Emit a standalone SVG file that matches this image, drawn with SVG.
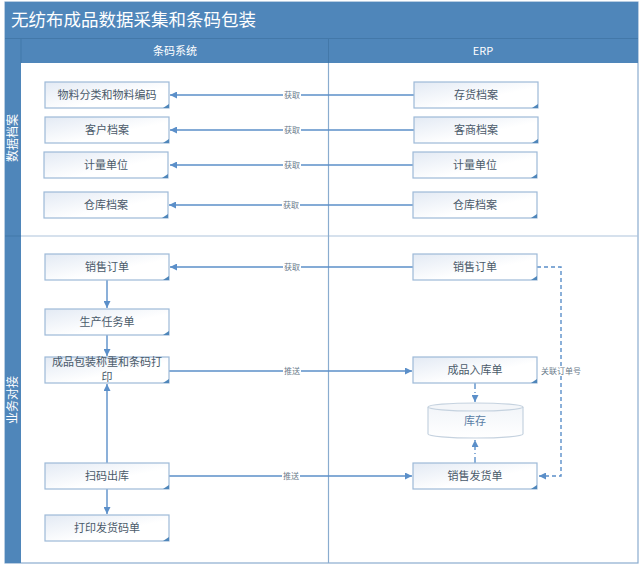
<svg xmlns="http://www.w3.org/2000/svg" width="643" height="569" viewBox="0 0 643 569">
<style>
text{font-family:"Noto Sans CJK SC","Liberation Sans",sans-serif}
.bar{fill:#4f86ba}
.hdr{fill:#fff;font-size:11px;text-anchor:middle}
.box{fill:url(#g);stroke:#9db9d8;stroke-width:1.2}
.fold{fill:#4f86ba}
.lbl{fill:#4a5a6a;font-size:11px;text-anchor:middle}
.ln{fill:none;stroke:#5b8fc9;stroke-width:1.4}
.dsh{fill:none;stroke:#5b8fc9;stroke-width:1.4;stroke-dasharray:4 3}
.dd{fill:none;stroke:#5b8fc9;stroke-width:1.4;stroke-dasharray:6 3 1 3}
.cl{fill:#6b7b8b;font-size:8px;text-anchor:middle}
.clbg{fill:#fff}
</style>
<defs>
<linearGradient id="g" x1="0" y1="0" x2="1" y2="1">
<stop offset="0" stop-color="#e3eaf4"/>
<stop offset="0.6" stop-color="#ffffff"/>
<stop offset="1" stop-color="#ffffff"/>
</linearGradient>
<linearGradient id="cy" x1="0" y1="0" x2="0" y2="1">
<stop offset="0" stop-color="#f2f5f9"/>
<stop offset="1" stop-color="#ffffff"/>
</linearGradient>
<marker id="ah" viewBox="0 0 10 10" refX="10" refY="5" markerWidth="7" markerHeight="7" markerUnits="userSpaceOnUse" orient="auto">
<path d="M0,0L10,5L0,10z" fill="#5b8fc9"/>
</marker>
</defs>
<rect x="0" y="0" width="643" height="569" fill="#fff"/>
<g id="frame">
<rect x="5" y="2" width="633" height="561" fill="#fff" stroke="#8aaccf" stroke-width="1.2"/>
<rect class="bar" x="5" y="2" width="633" height="36"/>
<text x="11" y="26" fill="#fff" font-size="17.5">无纺布成品数据采集和条码包装</text>
<rect class="bar" x="5" y="38" width="633" height="25"/>
<line x1="5" y1="38.5" x2="638" y2="38.5" stroke="#4378a9" stroke-width="1"/>
<line x1="21" y1="38" x2="21" y2="63" stroke="#4378a9" stroke-width="1"/>
<line x1="328.5" y1="38" x2="328.5" y2="63" stroke="#4378a9" stroke-width="1"/>
<text class="hdr" x="175" y="54.5">条码系统</text>
<text class="hdr" x="483" y="54.5">ERP</text>
<rect class="bar" x="5" y="63" width="16" height="500"/>
<line x1="5" y1="236" x2="21" y2="236" stroke="#4378a9" stroke-width="1"/>
<line x1="21" y1="236" x2="638" y2="236" stroke="#aec4dc" stroke-width="1.2"/>
<line x1="328.5" y1="63" x2="328.5" y2="563" stroke="#8aaccf" stroke-width="1.2"/>
<text x="13" y="138" fill="#fff" font-size="12" text-anchor="middle" transform="rotate(-90 13 138)" dy="4">数据档案</text>
<text x="13" y="400" fill="#fff" font-size="12" text-anchor="middle" transform="rotate(-90 13 400)" dy="4">业务对接</text>
</g>
<g id="connectors">
<path class="ln" d="M414,95H170" marker-end="url(#ah)"/>
<path class="ln" d="M414,130H170" marker-end="url(#ah)"/>
<path class="ln" d="M414,165H170" marker-end="url(#ah)"/>
<path class="ln" d="M414,205H169" marker-end="url(#ah)"/>
<path class="ln" d="M414,267H170" marker-end="url(#ah)"/>
<path class="ln" d="M107,280V308" marker-end="url(#ah)"/>
<path class="ln" d="M107,335V356" marker-end="url(#ah)"/>
<path class="ln" d="M107,463V384" marker-end="url(#ah)"/>
<path class="ln" d="M107,489V514" marker-end="url(#ah)"/>
<path class="ln" d="M169,371H412" marker-end="url(#ah)"/>
<path class="ln" d="M169,476H412" marker-end="url(#ah)"/>
<path class="dsh" d="M537,267H561V476H539" marker-end="url(#ah)"/>
<path class="dd" d="M475,383V402" marker-end="url(#ah)"/>
<path class="dd" d="M475,463V440" marker-end="url(#ah)"/>
<rect class="clbg" x="283" y="90" width="18" height="10"/>
<text class="cl" x="292" y="98">获取</text>
<rect class="clbg" x="283" y="125" width="18" height="10"/>
<text class="cl" x="292" y="133">获取</text>
<rect class="clbg" x="283" y="160" width="18" height="10"/>
<text class="cl" x="292" y="168">获取</text>
<rect class="clbg" x="282" y="200" width="18" height="10"/>
<text class="cl" x="291" y="208">获取</text>
<rect class="clbg" x="283" y="262" width="18" height="10"/>
<text class="cl" x="292" y="270">获取</text>
<rect class="clbg" x="283" y="366" width="18" height="10"/>
<text class="cl" x="292" y="374">推送</text>
<rect class="clbg" x="282" y="471" width="18" height="10"/>
<text class="cl" x="291" y="479">推送</text>
<rect class="clbg" x="540" y="366" width="42" height="10"/>
<text class="cl" x="561" y="374">关联订单号</text>
</g>
<g id="n1"><rect class="box" x="45" y="82" width="124" height="26"/><path class="fold" d="M169,104L169,108L163,108z"/><text class="lbl" x="107" y="99">物料分类和物料编码</text></g>
<g id="n2"><rect class="box" x="45" y="117" width="124" height="26"/><path class="fold" d="M169,139L169,143L163,143z"/><text class="lbl" x="107" y="134">客户档案</text></g>
<g id="n3"><rect class="box" x="44" y="152" width="124" height="26"/><path class="fold" d="M168,174L168,178L162,178z"/><text class="lbl" x="106" y="169">计量单位</text></g>
<g id="n4"><rect class="box" x="44" y="192" width="124" height="26"/><path class="fold" d="M168,214L168,218L162,218z"/><text class="lbl" x="106" y="209">仓库档案</text></g>
<g id="e1"><rect class="box" x="414" y="82" width="124" height="26"/><path class="fold" d="M538,104L538,108L532,108z"/><text class="lbl" x="476" y="99">存货档案</text></g>
<g id="e2"><rect class="box" x="414" y="117" width="124" height="26"/><path class="fold" d="M538,139L538,143L532,143z"/><text class="lbl" x="476" y="134">客商档案</text></g>
<g id="e3"><rect class="box" x="413" y="152" width="124" height="26"/><path class="fold" d="M537,174L537,178L531,178z"/><text class="lbl" x="475" y="169">计量单位</text></g>
<g id="e4"><rect class="box" x="413" y="192" width="124" height="26"/><path class="fold" d="M537,214L537,218L531,218z"/><text class="lbl" x="475" y="209">仓库档案</text></g>
<g id="b1"><rect class="box" x="45" y="254" width="124" height="26"/><path class="fold" d="M169,276L169,280L163,280z"/><text class="lbl" x="107" y="271">销售订单</text></g>
<g id="b2"><rect class="box" x="45" y="309" width="124" height="26"/><path class="fold" d="M169,331L169,335L163,335z"/><text class="lbl" x="107" y="326">生产任务单</text></g>
<g id="b3"><rect class="box" x="45" y="357" width="124" height="26"/><path class="fold" d="M169,379L169,383L163,383z"/><text class="lbl" x="107" y="366">成品包装称重和条码打</text><text class="lbl" x="107" y="381">印</text></g>
<g id="b4"><rect class="box" x="45" y="463" width="124" height="26"/><path class="fold" d="M169,485L169,489L163,489z"/><text class="lbl" x="107" y="480">扫码出库</text></g>
<g id="b5"><rect class="box" x="45" y="515" width="124" height="26"/><path class="fold" d="M169,537L169,541L163,541z"/><text class="lbl" x="107" y="532">打印发货码单</text></g>
<g id="r1"><rect class="box" x="413" y="254" width="124" height="26"/><path class="fold" d="M537,276L537,280L531,280z"/><text class="lbl" x="475" y="271">销售订单</text></g>
<g id="r2"><rect class="box" x="413" y="357" width="124" height="26"/><path class="fold" d="M537,379L537,383L531,383z"/><text class="lbl" x="475" y="374">成品入库单</text></g>
<g id="r3"><path d="M428,407V434A47.5,4 0 0 0 523,434V407" fill="url(#cy)" stroke="#c5d2df" stroke-width="1.2"/><ellipse cx="475.5" cy="407" rx="47.5" ry="4" fill="#f4f6f9" stroke="#c5d2df" stroke-width="1.2"/><text class="lbl" x="475" y="425" style="fill:#5a7ea6">库存</text></g>
<g id="r4"><rect class="box" x="413" y="463" width="124" height="26"/><path class="fold" d="M537,485L537,489L531,489z"/><text class="lbl" x="475" y="480">销售发货单</text></g>
</svg>
